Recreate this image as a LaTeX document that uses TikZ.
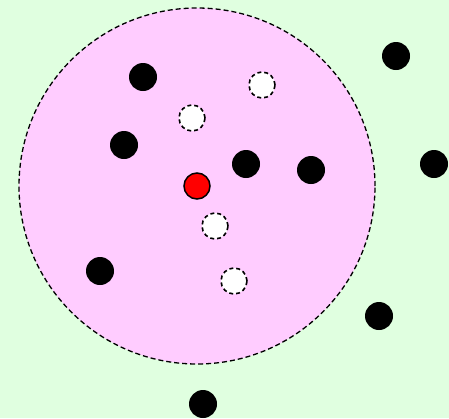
\documentclass[tikz,border=0pt]{standalone}
\usepackage{tikz}
\definecolor{bggreen}{RGB}{224,255,224}
\definecolor{ballpink}{RGB}{255,204,255}

\begin{document}
\begin{tikzpicture}[x=1pt,y=-1pt]
    \fill[bggreen] (0,0) rectangle (449,418);
    \useasboundingbox (0,0) rectangle (449,418);

    \coordinate (q) at (197,186);

    % the ball round q
    \draw[line width=1.3pt,dash pattern=on 5pt off 3pt,fill=ballpink] (q) circle (178pt);

    % points of the data set
    \foreach \x/\y in {143/77, 396/56, 124/145, 246/164, 311/170,
                       434/164, 100/271, 379/316, 203/404} {
        \fill (\x,\y) circle (14pt);
    }

    % empty places
    \foreach \x/\y in {262/85, 192/118, 215/226, 234/281} {
        \draw[line width=1.6pt,dash pattern=on 4pt off 3pt,fill=white] (\x,\y) circle (13pt);
    }

    \draw[line width=1.5pt,fill=red] (q) circle (13pt);
\end{tikzpicture}
\end{document}
